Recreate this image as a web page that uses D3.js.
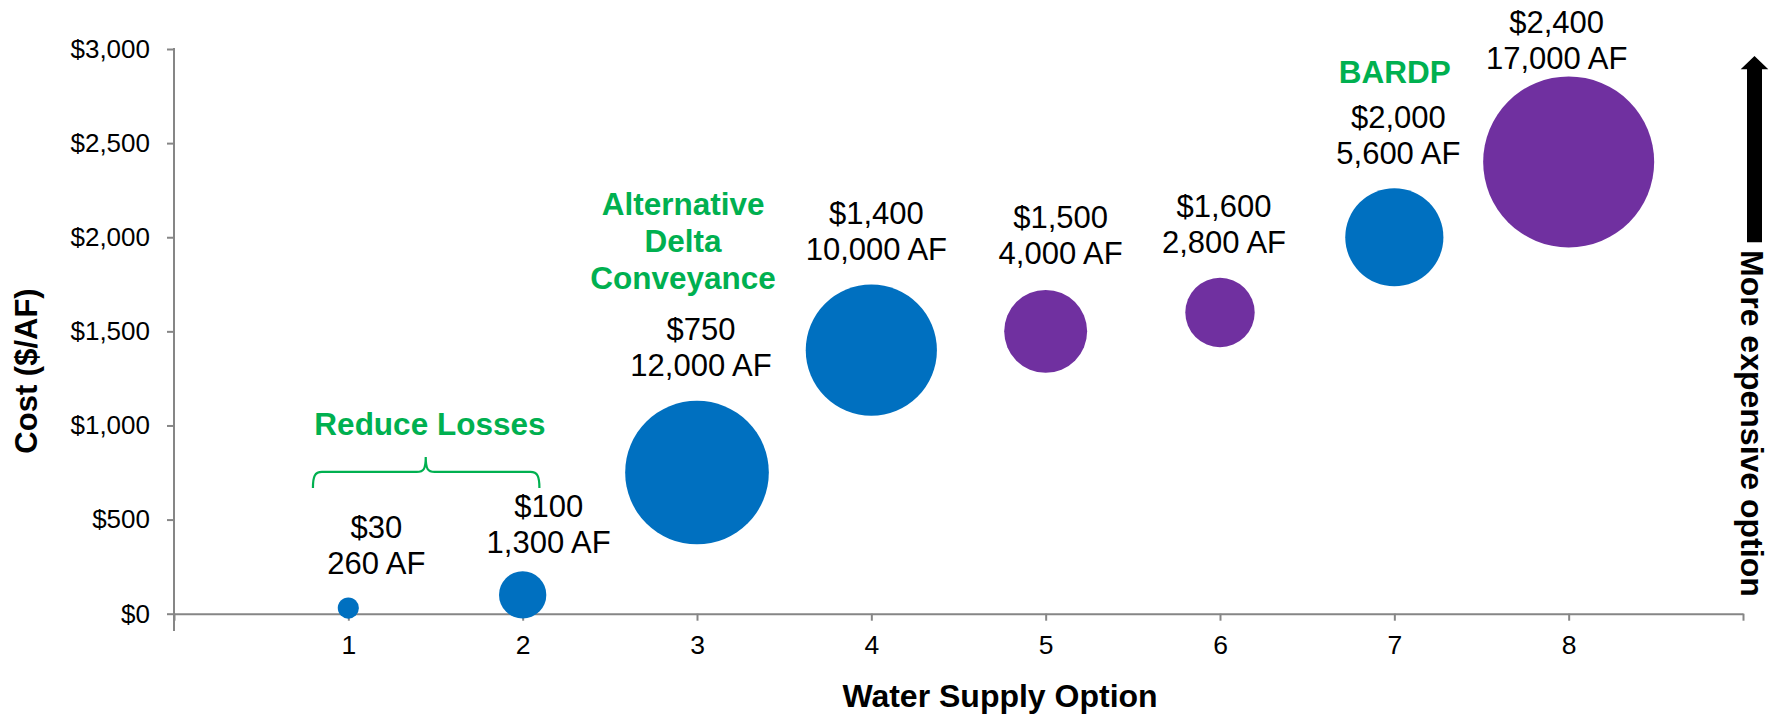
<!DOCTYPE html>
<html>
<head>
<meta charset="utf-8">
<script src="https://cdn.jsdelivr.net/npm/d3@7"></script>
<style>
  html, body { margin: 0; padding: 0; background: #ffffff; }
  svg { display: block; }
  text { font-family: "Liberation Sans", Arial, Helvetica, sans-serif; }
</style>
</head>
<body>
<svg id="chart" width="1785" height="714"></svg>
<script>
// Water supply options: unit cost ($/AF) and yield (acre-feet)
const options   = [1, 2, 3, 4, 5, 6, 7, 8];
const costs     = [30, 100, 750, 1400, 1500, 1600, 2000, 2400];
const volumesAF = [260, 1300, 12000, 10000, 4000, 2800, 5600, 17000];
const sourceKey = ["local", "local", "local", "local", "partner", "partner", "local", "partner"];

const xTicks = [1, 2, 3, 4, 5, 6, 7, 8];
const yTicks = [0, 500, 1000, 1500, 2000, 2500, 3000];

// Group call-outs, anchored in data units (option, cost of first line)
const groupNames  = ["Reduce Losses", "Alternative\nDelta\nConveyance", "BARDP"];
const groupAnchor = [[1.468, 1008], [2.92, 2180], [7.003, 2880]];

// Label layout: horizontal nudge and gap above each bubble (px)
const labelDx  = [28, 26, 4, 5, 15, 4, 4, -12];
const labelGap = [34.5, 29, 35.7, 36, 37, 36, 35.7, 18.5];

const svg = d3.select("#chart");
svg.append("rect").attr("width", 1785).attr("height", 714).attr("fill", "#ffffff");

const axisColor = "#868686";
const green = "#00B050";

const x = d3.scaleLinear().domain([0, 9]).range([174, 1743]);
const y = d3.scaleLinear().domain([0, 3000]).range([613.7, 49]);
const r = d3.scaleSqrt().domain([0, 17000]).range([0, 85.5]);
const color = d3.scaleOrdinal().domain(["local", "partner"]).range(["#0070C0", "#7030A0"]);

const money = v => "$" + d3.format(",")(v);

// Y axis
const yAxis = d3.axisLeft(y).tickValues(yTicks).tickSize(7).tickPadding(17).tickFormat(money);
const gy = svg.append("g").attr("transform", `translate(${x(0)},0)`).call(yAxis);
gy.select(".domain").remove();
gy.selectAll(".tick line").attr("stroke", axisColor).attr("stroke-width", 2);
gy.selectAll(".tick text").attr("fill", "#000").style("font-size", "26px")
  .style("font-family", '"Liberation Sans", Arial, sans-serif');
svg.append("line")
  .attr("x1", x(0)).attr("x2", x(0))
  .attr("y1", y(3000) - 1).attr("y2", y(-92))
  .attr("stroke", axisColor).attr("stroke-width", 2);

// X axis at cost 0
const xAxis = d3.axisBottom(x).tickValues(d3.range(0, 10)).tickSize(7).tickSizeOuter(0).tickPadding(14.5)
  .tickFormat(d => xTicks.includes(d) ? d : "");
const gx = svg.append("g").attr("transform", `translate(0,${y(0)})`).call(xAxis);
gx.select(".domain").attr("stroke", axisColor).attr("stroke-width", 2);
gx.selectAll(".tick line").attr("stroke", axisColor).attr("stroke-width", 2);
gx.selectAll(".tick text").attr("fill", "#000").style("font-size", "26.5px")
  .style("font-family", '"Liberation Sans", Arial, sans-serif');

// Axis titles
svg.append("text")
  .attr("x", 1000).attr("y", 707)
  .attr("text-anchor", "middle")
  .attr("font-size", 32).attr("font-weight", "bold").attr("fill", "#000")
  .text("Water Supply Option");

svg.append("text")
  .attr("transform", "translate(37,371) rotate(-90)")
  .attr("text-anchor", "middle")
  .attr("font-size", 31).attr("font-weight", "bold").attr("fill", "#000")
  .text("Cost ($/AF)");

// Bubbles
const rows = options.map((o, i) => ({
  option: o, cost: costs[i], af: volumesAF[i], key: sourceKey[i],
  dx: labelDx[i], gap: labelGap[i]
}));

svg.append("g").selectAll("circle").data(rows).join("circle")
  .attr("cx", d => x(d.option))
  .attr("cy", d => y(d.cost))
  .attr("r", d => r(d.af))
  .attr("fill", d => color(d.key));

// Value labels: cost over yield
const fs = 31, lineH = 36;
const lab = svg.append("g").selectAll("g").data(rows).join("g")
  .attr("transform", d => {
    const line2 = y(d.cost) - r(d.af) - d.gap;
    return `translate(${x(d.option) + d.dx},${line2 + 0.358 * fs})`;
  });
lab.append("text").attr("text-anchor", "middle").attr("y", -lineH)
  .attr("font-size", fs).attr("fill", "#000").text(d => money(d.cost));
lab.append("text").attr("text-anchor", "middle").attr("y", 0)
  .attr("font-size", fs).attr("fill", "#000").text(d => d3.format(",")(d.af) + " AF");

// Group call-outs
groupNames.forEach((name, i) => {
  const lines = name.split("\n");
  const [gxv, gyv] = groupAnchor[i];
  const t = svg.append("text")
    .attr("text-anchor", "middle")
    .attr("font-size", 31.5).attr("font-weight", "bold").attr("fill", green);
  lines.forEach((ln, j) => {
    t.append("tspan")
      .attr("x", x(gxv))
      .attr("y", y(gyv) + j * 37 + 0.358 * 31.5)
      .text(ln);
  });
});

// Brace under "Reduce Losses"
{
  const xl = x(0.797), xr = x(2.096), xm = x(1.444);
  const yb = y(668), yh = y(753), yp = y(832);
  const c = 9;
  const p = d3.path();
  p.moveTo(xl, yb);
  p.bezierCurveTo(xl, yh + 4, xl + 2, yh, xl + c, yh);
  p.lineTo(xm - c, yh);
  p.bezierCurveTo(xm - 2, yh, xm, yh - 3, xm, yp);
  p.bezierCurveTo(xm, yh - 3, xm + 2, yh, xm + c, yh);
  p.lineTo(xr - c, yh);
  p.bezierCurveTo(xr - 2, yh, xr, yh + 4, xr, yb);
  svg.append("path").attr("d", p.toString())
    .attr("fill", "none").attr("stroke", green).attr("stroke-width", 2.2);
}

// "More expensive" arrow on the right
{
  const ax = 1754.5;
  const p = d3.path();
  p.moveTo(ax - 7.5, 242.3);
  p.lineTo(ax - 7.5, 69.3);
  p.lineTo(ax - 13.8, 69.3);
  p.lineTo(ax, 56);
  p.lineTo(ax + 13.8, 69.3);
  p.lineTo(ax + 7.5, 69.3);
  p.lineTo(ax + 7.5, 242.3);
  p.closePath();
  svg.append("path").attr("d", p.toString()).attr("fill", "#000");

  svg.append("text")
    .attr("transform", "translate(1741,250) rotate(90)")
    .attr("text-anchor", "start")
    .attr("font-size", 32).attr("font-weight", "bold").attr("fill", "#000")
    .text("More expensive option");
}
</script>
</body>
</html>
